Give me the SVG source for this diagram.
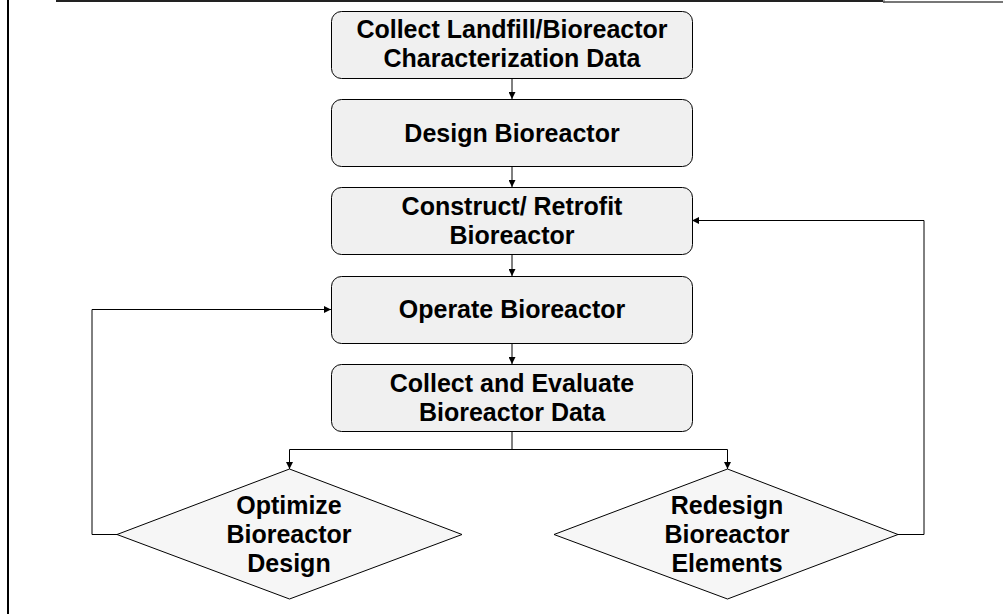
<svg xmlns="http://www.w3.org/2000/svg" width="1003" height="614" viewBox="0 0 1003 614">
  <style>
    .box { fill: #f0f0f0; stroke: #000; stroke-width: 1; }
    .dia { fill: #f6f6f6; stroke: #000; stroke-width: 1; }
    .lbl { font-family: "Liberation Sans", Arial, sans-serif; font-weight: bold; font-size: 25px; fill: #000; text-anchor: middle; }
    .wire { fill: none; stroke: #000; stroke-width: 1; }
  </style>
  <defs>
    <marker id="arrow" viewBox="0 0 10 10" refX="10" refY="5" markerWidth="7" markerHeight="7" markerUnits="userSpaceOnUse" orient="auto">
      <path d="M0,0 L10,5 L0,10 z" fill="#000"/>
    </marker>
  </defs>
  <rect width="1003" height="614" fill="#fff"/>

  <!-- page frame -->
  <g id="frame">
    <line x1="8" y1="0" x2="8" y2="614" stroke="#000" stroke-width="2"/>
    <line x1="56" y1="1" x2="883" y2="1" stroke="#222" stroke-width="2"/>
    <line x1="883" y1="2" x2="1003" y2="2" stroke="#777" stroke-width="2"/>
    <line x1="884" y1="0" x2="884" y2="3" stroke="#555" stroke-width="1"/>
  </g>

  <!-- connectors -->
  <g id="connectors">
    <line class="wire" x1="512" y1="78" x2="512" y2="99" marker-end="url(#arrow)"/>
    <line class="wire" x1="512" y1="167" x2="512" y2="187" marker-end="url(#arrow)"/>
    <line class="wire" x1="512" y1="255" x2="512" y2="276" marker-end="url(#arrow)"/>
    <line class="wire" x1="512" y1="343" x2="512" y2="364" marker-end="url(#arrow)"/>
    <line class="wire" x1="512" y1="431" x2="512" y2="449.5"/>
    <path class="wire" d="M512,449.5 H289.5 V469" marker-end="url(#arrow)"/>
    <path class="wire" d="M512,449.5 H727.5 V469" marker-end="url(#arrow)"/>
    <path class="wire" d="M117,534.5 H92 V309.5 H331" marker-end="url(#arrow)"/>
    <path class="wire" d="M898,534.5 H924 V220.5 H692" marker-end="url(#arrow)"/>
  </g>

  <g id="collect-characterization">
    <rect class="box" x="331.5" y="11.5" width="361" height="67" rx="10"/>
    <text class="lbl" x="512" y="38">Collect Landfill/Bioreactor</text>
    <text class="lbl" x="512" y="67">Characterization Data</text>
  </g>

  <g id="design">
    <rect class="box" x="331.5" y="99.5" width="361" height="67" rx="10"/>
    <text class="lbl" x="512" y="142">Design Bioreactor</text>
  </g>

  <g id="construct">
    <rect class="box" x="331.5" y="187.5" width="361" height="67" rx="10"/>
    <text class="lbl" x="512" y="215">Construct/ Retrofit</text>
    <text class="lbl" x="512" y="244">Bioreactor</text>
  </g>

  <g id="operate">
    <rect class="box" x="331.5" y="276.5" width="361" height="67" rx="10"/>
    <text class="lbl" x="512" y="318">Operate Bioreactor</text>
  </g>

  <g id="evaluate">
    <rect class="box" x="331.5" y="364.5" width="361" height="67" rx="10"/>
    <text class="lbl" x="512" y="392">Collect and Evaluate</text>
    <text class="lbl" x="512" y="421">Bioreactor Data</text>
  </g>

  <g id="optimize">
    <polygon class="dia" points="289.5,469 462,534.5 289.5,599 117,534.5"/>
    <text class="lbl" x="289" y="514">Optimize</text>
    <text class="lbl" x="289" y="543">Bioreactor</text>
    <text class="lbl" x="289" y="572">Design</text>
  </g>

  <g id="redesign">
    <polygon class="dia" points="727.5,469 898,534.5 727.5,599 554,534.5"/>
    <text class="lbl" x="727" y="514">Redesign</text>
    <text class="lbl" x="727" y="543">Bioreactor</text>
    <text class="lbl" x="727" y="572">Elements</text>
  </g>
</svg>
